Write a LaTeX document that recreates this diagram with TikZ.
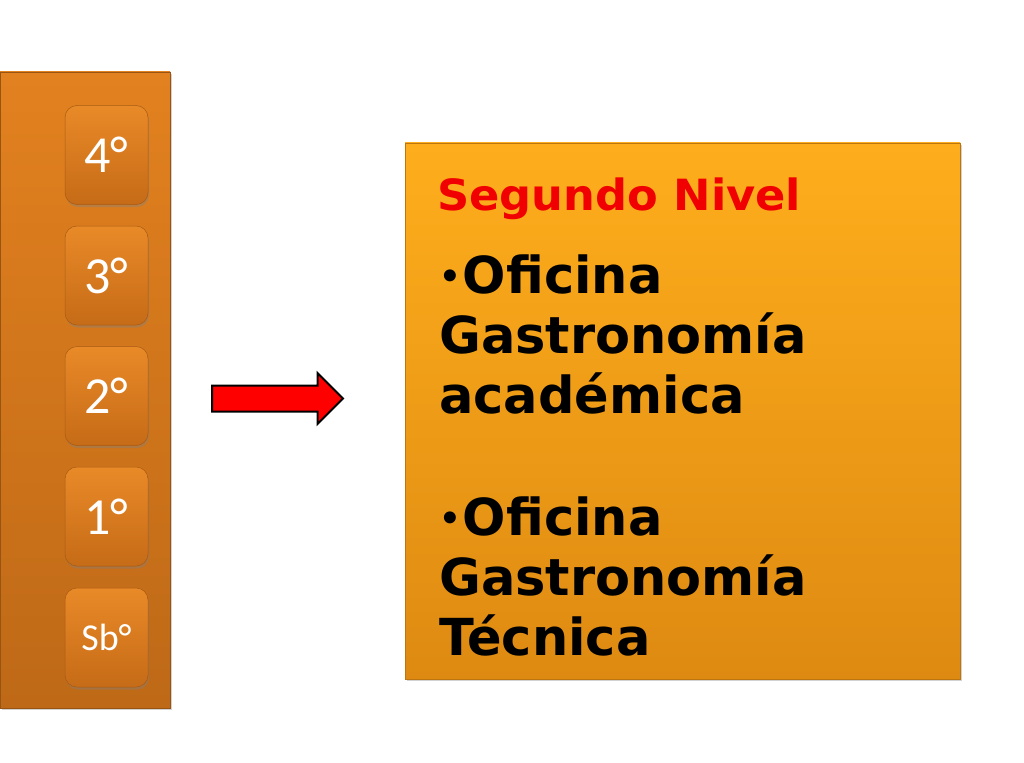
\documentclass[tikz,border=0pt]{standalone}
\usepackage{fontspec}
\newfontfamily\numfont{Carlito}
\newfontfamily\tahfont{DejaVu Sans}
\newfontfamily\tahwide{DejaVu Sans}[FakeStretch=1.04]
\usetikzlibrary{shapes.arrows,shadows}
\definecolor{coltop}{HTML}{E2811F}
\definecolor{colbot}{HTML}{BE6917}
\definecolor{btntop}{HTML}{E98A28}
\definecolor{btnbot}{HTML}{C66B17}
\definecolor{boxtop}{HTML}{FEAE1C}
\definecolor{boxbot}{HTML}{DE8A12}
\definecolor{titlered}{HTML}{F00000}
\newcommand{\smallbullet}{{\fontsize{34}{60}\selectfont\raisebox{5pt}{•}\kern2pt}}
\tikzset{
  column/.style={draw=colbot!80!black, line width=0.6pt, top color=coltop, bottom color=colbot,
    minimum width=170, minimum height=636, inner sep=0, drop shadow={opacity=0.35, shadow xshift=2pt, shadow yshift=-2pt}},
  btn/.style={draw=btnbot!85!black, line width=0.5pt, rounded corners=12pt, top color=btntop, bottom color=btnbot,
    minimum width=83, minimum height=99, inner sep=0, text=white, font=\numfont\fontsize{52}{60}\selectfont,
    drop shadow={opacity=0.4, shadow xshift=1pt, shadow yshift=-2.5pt}},
  bigbox/.style={draw=boxbot!85!black, line width=0.6pt, top color=boxtop, bottom color=boxbot,
    minimum width=555, minimum height=536, inner sep=0, drop shadow={opacity=0.35, shadow xshift=2pt, shadow yshift=-2pt}},
  redarrow/.style={single arrow, draw=black, line width=2pt, fill=red, minimum height=131,
    inner xsep=0, inner ysep=12pt, single arrow head extend=12.5pt, single arrow tip angle=90},
  itemtext/.style={anchor=north west, inner sep=0, align=left, font=\tahfont\bfseries\fontsize{51}{60}\selectfont, text=black}
}
\begin{document}
\begin{tikzpicture}[x=1pt,y=-1pt]
\useasboundingbox (0,0) rectangle (1024,762);
\fill[white] (0,0) rectangle (1024,762);
% left column
\node[column] (col) at (85,390) {};
\node[btn] (b4) at (106.5,155) {4°};
\node[btn] (b3) at (106.5,275.5) {3°};
\node[btn] (b2) at (106.5,396) {2°};
\node[btn] (b1) at (106.5,516.5) {1°};
\node[btn, font=\numfont\fontsize{38}{44}\selectfont] (bsb) at (106.5,637.5) {Sb°};
% arrow
\node[redarrow] (arr) at (271,398.5) {};
% right box
\node[bigbox] (box) at (682.5,411) {};
\node[anchor=base west, inner sep=0, text=titlered, font=\tahwide\bfseries\fontsize{43}{50}\selectfont] (title) at (437,210) {Segundo Nivel};
\node[itemtext] (item1) at (439,255) {\smallbullet Oficina\\Gastronomía\\académica};
\node[itemtext] (item2) at (439,497) {\smallbullet Oficina\\Gastronomía\\Técnica};
\end{tikzpicture}
\end{document}
